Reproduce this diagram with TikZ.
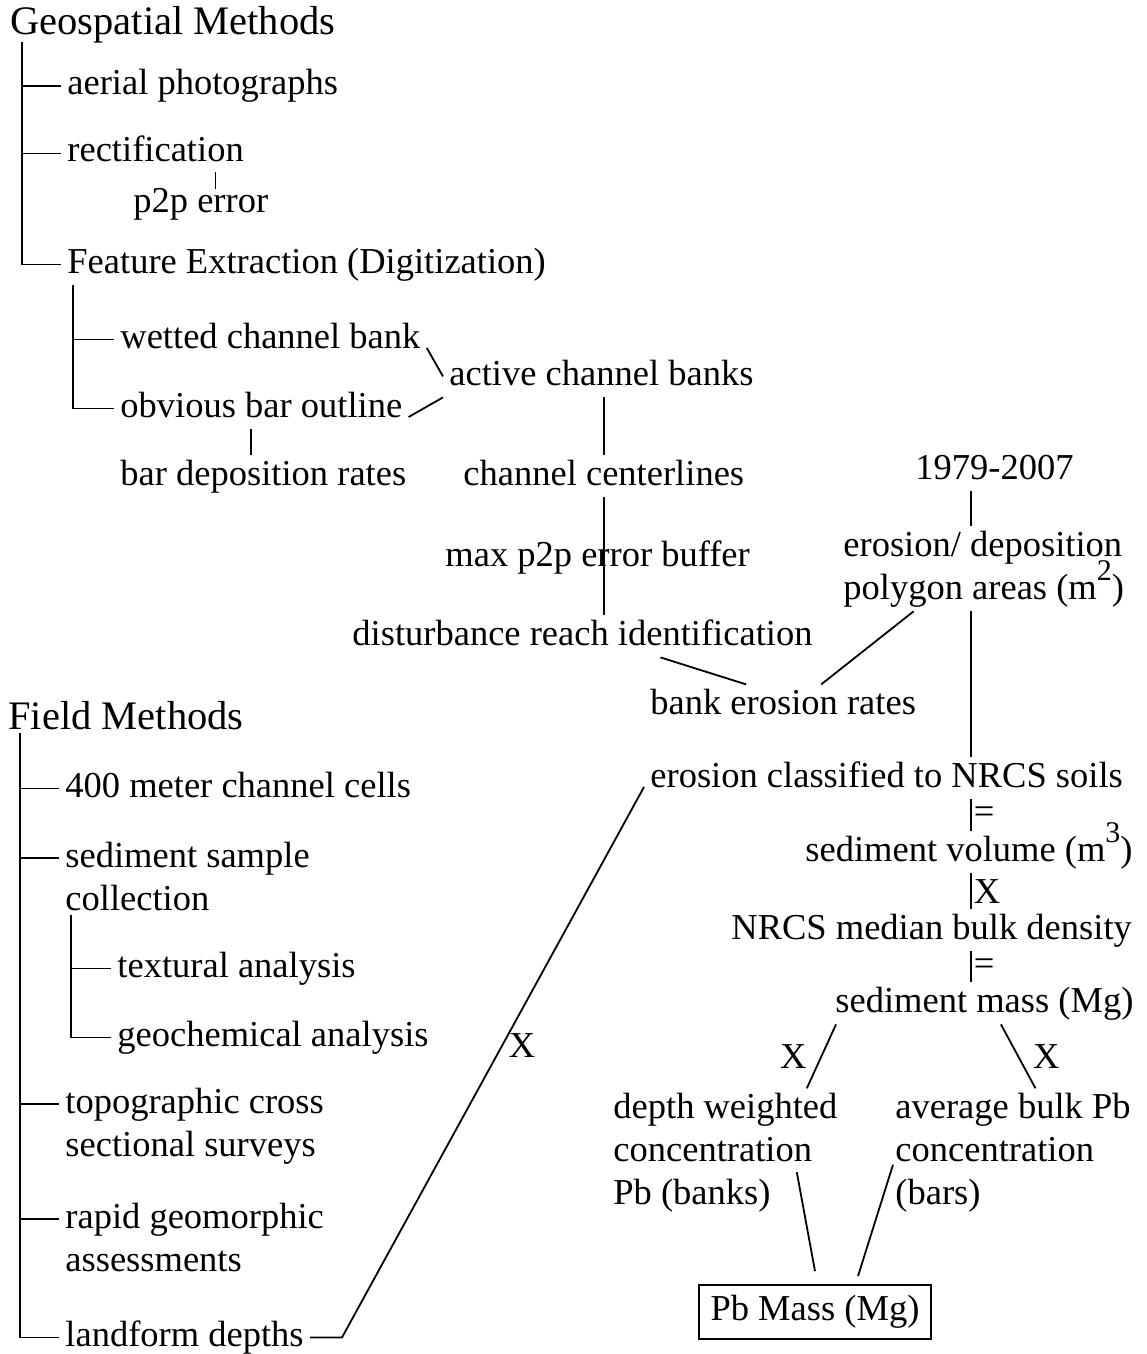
\documentclass[tikz,border=0pt]{standalone}
\usepackage{fontspec}
\setmainfont{Liberation Serif}
\usetikzlibrary{positioning}
\newcommand{\headfont}{\fontsize{20.25pt}{24pt}\selectfont}
\newcommand{\itemfont}{\fontsize{18.25pt}{21.5pt}\selectfont}
\newcommand{\unitsup}[1]{\smash{\raisebox{0.5em}{\fontsize{15pt}{15pt}\selectfont #1}}}
\tikzset{
    head/.style={
        font=\headfont,
        inner xsep=3pt,
        inner ysep=2pt,
        anchor=base west
    },
    item/.style={
        font=\itemfont,
        inner xsep=3pt,
        inner ysep=2pt,
        text height=12.6pt,
        text depth=4pt,
        anchor=base west
    },
    multi/.style={
        font=\itemfont,
        inner xsep=3pt,
        inner ysep=2pt,
        align=left,
        anchor=base west
    },
    op/.style={font=\itemfont, inner sep=1pt},
    link/.style={line width=0.9pt},
    massbox/.style={
        draw,
        line width=0.9pt,
        font=\itemfont,
        inner xsep=5.75pt,
        inner ysep=5.2pt,
        text height=12.6pt,
        text depth=4pt
    }
}

\begin{document}
\begin{tikzpicture}[x=0.5pt, y=-0.5pt]
\useasboundingbox (0,0) rectangle (1146,1354);

% Geospatial Methods
\node[head] (geo) at (4,35) {Geospatial Methods};
\node[item] (aer) at (61,95) {aerial photographs};
\node[item] (rect) at (61,162) {rectification};
\node[item] (p2p) at (127,213) {p2p error};
\node[item] (feat) at (61,273) {Feature Extraction (Digitization)};
\coordinate (gtop) at ([xshift=9pt,yshift=-3.5pt]geo.base west);
\draw[link] (gtop) |- (feat.west)
    (gtop |- aer.west) -- (aer.west)
    (gtop |- rect.west) -- (rect.west);
\draw[link] ([xshift=30pt,yshift=1pt]rect.south) -- ([xshift=30pt,yshift=-3pt]rect.south |- p2p.north);

% Feature extraction branch
\node[item] (wet) at (114,348) {wetted channel bank};
\node[item] (obv) at (114,417) {obvious bar outline};
\node[item] (bdr) at (114,485) {bar deposition rates};
\node[item] (act) at (443,385) {active channel banks};
\coordinate (ftop) at ([xshift=6pt]feat.south west);
\draw[link] (ftop) |- (obv.west)
    (ftop |- wet.west) -- (wet.west);
\draw[link] (wet.base east) -- (act.west);
\draw[link] (obv.base east) -- (act.south west);
\draw[link] ([xshift=-5pt]obv.south) -- ([xshift=-5pt]obv.south |- bdr.north);

% Centerlines down to disturbance reach
\node[item] (ccl) at (457,485) {channel centerlines};
\node[item] (maxb) at (439,566) {max p2p error buffer};
\node[item] (dist) at (346,645) {disturbance reach identification};
\node[item] (ber) at (644,714) {bank erosion rates};
\draw[link] (act.south -| ccl.north) -- (ccl.north);
\draw[link] (ccl.south) -- (ccl.south |- dist.north);

% Right column
\coordinate (spine) at (971,0);
\node[item] (yr) at (909,479) {1979-2007};
\node[multi] (poly) at (837,599) {erosion/ deposition\\polygon areas (m\unitsup{2})};
\node[item] (ecl) at (644,787) {erosion classified to NRCS soils};
\node[item] (svol) at (799,861) {sediment volume (m\unitsup{3})};
\node[item] (nrcs) at (725,939) {NRCS median bulk density};
\node[item] (smass) at (829,1012) {sediment mass (Mg)};
\draw[link] (yr.south -| spine) -- (poly.north -| spine);
\draw[link] (poly.south -| spine) -- (ecl.north -| spine);
\draw[link] (ecl.south -| spine) -- (svol.north -| spine) node[op, midway, anchor=west] {=};
\draw[link] (svol.south -| spine) -- (nrcs.north -| spine) node[op, midway, anchor=west] {X};
\draw[link] (nrcs.south -| spine) -- (smass.north -| spine) node[op, midway, anchor=west] {=};
\draw[link] ([xshift=39pt]dist.south) -- ([xshift=-18.5pt]ber.north);
\draw[link] ([xshift=-35pt]poly.south) -- ([xshift=19pt]ber.north);

% Pb concentrations and mass
\node[multi] (dw) at (607,1204) {depth weighted\\concentration\\Pb (banks)};
\node[multi] (ab) at (889,1204) {average bulk Pb\\concentration\\(bars)};
\node[massbox] (pbm) at (815,1312) {Pb Mass (Mg)};
\draw[link] ([xshift=3.5pt]smass.south west) -- ([xshift=-18.5pt]dw.north east)
    node[op, midway, left=6pt] {X};
\draw[link] ([xshift=8.25pt]smass.south) -- ([xshift=11.25pt]ab.north)
    node[op, midway, right=6pt] {X};
\draw[link] ([xshift=-23.5pt,yshift=-10pt]dw.east) -- ([yshift=6.5pt]pbm.north);
\draw[link] ([xshift=2pt,yshift=-6.25pt]ab.west) -- ([xshift=21.5pt,yshift=4pt]pbm.north);

% Field Methods
\node[head] (field) at (2,729) {Field Methods};
\node[item] (c400) at (59,797) {400 meter channel cells};
\node[multi] (sed) at (59,910) {sediment sample\\collection};
\node[item] (tex) at (111,977) {textural analysis};
\node[item] (geoc) at (111,1046) {geochemical analysis};
\node[multi] (topo) at (59,1156) {topographic cross\\sectional surveys};
\node[multi] (rapid) at (59,1271) {rapid geomorphic\\assessments};
\node[item] (land) at (59,1346) {landform depths};
\coordinate (fmtop) at ([xshift=9pt,yshift=-2pt]field.base west);
\draw[link] (fmtop) |- (land.west)
    (fmtop |- sed.north west) ++(0,21) -- ([yshift=-10.5pt]sed.north west)
    (fmtop |- topo.north west) ++(0,21) -- ([yshift=-10.5pt]topo.north west)
    (fmtop |- rapid.north west) ++(0,21) -- ([yshift=-10.5pt]rapid.north west)
    (fmtop |- c400.west) -- (c400.west);
\coordinate (stop) at ([xshift=6pt]sed.south west);
\draw[link] (stop) |- (geoc.west)
    (stop |- tex.west) -- (tex.west);

% landform depths feed the soils classification
\draw[link] (land.east) -- ++(32,0) -- (ecl.base west)
    node[op, pos=0.53, anchor=west, xshift=2pt] {X};

\end{tikzpicture}
\end{document}
